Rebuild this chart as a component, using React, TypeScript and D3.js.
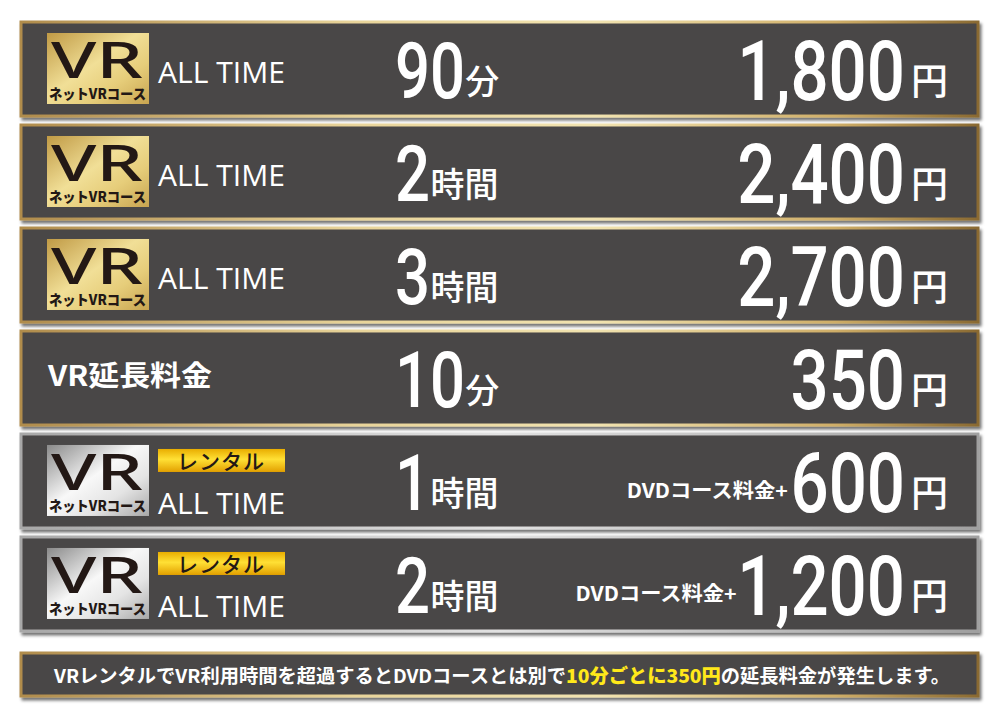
import React from "react";
import * as d3 from "d3";

// ---- data ----
const rowKinds = ["gold", "gold", "gold", "plain", "silver", "silver"];
const rowLabels = ["ALL TIME", "ALL TIME", "ALL TIME", "VR延長料金", "ALL TIME", "ALL TIME"];
const rentalTags = ["", "", "", "", "レンタル", "レンタル"];
const durationValues = ["90", "2", "3", "10", "1", "2"];
const durationUnits = ["分", "時間", "時間", "分", "時間", "時間"];
const priceValues = [1800, 2400, 2700, 350, 600, 1200];
const pricePrefixes = ["", "", "", "", "DVDコース料金+", "DVDコース料金+"];
const priceUnit = "円";
const badgeTitle = "VR";
const badgeSub = "ネットVRコース";
const footerTexts = ["VRレンタルでVR利用時間を超過するとDVDコースとは別で", "10分ごとに350円", "の延長料金が発生します。"];
const footerHighlight = [false, true, false];

const fmt = d3.format(",");
const NUM_FONT = "Roboto, 'Noto Sans', sans-serif";
const JP_FONT = "'Noto Sans CJK JP', 'Noto Sans', sans-serif";
const LAT_FONT = "'Open Sans', 'Noto Sans', sans-serif";

export default function App() {
  const rowIdx = d3.range(rowKinds.length);
  const y = d3.scaleBand<number>().domain(rowIdx).range([22, 631]).paddingInner(0.087);
  const bh = y.bandwidth();
  const rowX = 21;
  const rowW = 957;

  const priceScale = 0.8;
  const priceSize = 84;
  const durScale = 0.8;
  const durSize = 77;
  const digitAdv = 0.5615;
  const commaAdv = 0.2;

  return (
    <svg
      width={1000}
      height={720}
      viewBox="0 0 1000 720"
      style={{ position: "fixed", left: 0, top: 0, display: "block", background: "#ffffff" }}
    >
      <defs>
        <linearGradient id="goldBorder" x1="0" y1="0" x2="1" y2="0">
          <stop offset="0" stopColor="#b08c4c" />
          <stop offset="0.35" stopColor="#e8d49a" />
          <stop offset="0.6" stopColor="#f1e3b0" />
          <stop offset="0.85" stopColor="#cfae68" />
          <stop offset="1" stopColor="#8a6a32" />
        </linearGradient>
        <linearGradient id="silverBorder" x1="0" y1="0" x2="1" y2="0">
          <stop offset="0" stopColor="#a8a8a8" />
          <stop offset="0.5" stopColor="#e2e2e2" />
          <stop offset="1" stopColor="#a0a0a0" />
        </linearGradient>
        <linearGradient id="goldBadge" x1="0" y1="0" x2="1" y2="1">
          <stop offset="0" stopColor="#c09a45" />
          <stop offset="0.45" stopColor="#f1df97" />
          <stop offset="0.7" stopColor="#e6cd7a" />
          <stop offset="1" stopColor="#c8a450" />
        </linearGradient>
        <linearGradient id="silverBadge" x1="0" y1="0" x2="1" y2="1">
          <stop offset="0" stopColor="#8a8a8a" />
          <stop offset="0.45" stopColor="#f8f8f8" />
          <stop offset="0.7" stopColor="#e4e4e4" />
          <stop offset="1" stopColor="#a8a8a8" />
        </linearGradient>
        <linearGradient id="rentalTag" x1="0" y1="0" x2="0" y2="1">
          <stop offset="0" stopColor="#e9ad00" />
          <stop offset="0.45" stopColor="#ffe035" />
          <stop offset="1" stopColor="#e2a000" />
        </linearGradient>
        <filter id="shadow" x="-5%" y="-10%" width="110%" height="130%">
          <feDropShadow dx="2" dy="3" stdDeviation="1.5" floodColor="#000" floodOpacity="0.55" />
        </filter>
      </defs>

      {rowIdx.map((i) => {
        const t = y(i) as number;
        const kind = rowKinds[i];
        const border = kind === "silver" ? "url(#silverBorder)" : "url(#goldBorder)";
        const priceStr = fmt(priceValues[i]);
        const nDigits = priceStr.replace(/,/g, "").length;
        const nCommas = priceStr.length - nDigits;
        const priceW = (nDigits * digitAdv + nCommas * commaAdv) * priceSize * priceScale;
        const durW = durationValues[i].length * digitAdv * durSize * durScale;
        const hasBadge = kind !== "plain";
        const hasRental = rentalTags[i] !== "";
        return (
          <g key={i}>
            <rect
              x={rowX}
              y={t}
              width={rowW}
              height={bh}
              fill="#4a4646"
              stroke={border}
              strokeWidth={3}
              filter="url(#shadow)"
            />
            {hasBadge && (
              <g>
                <rect
                  x={47}
                  y={t + 11}
                  width={102}
                  height={71}
                  fill={kind === "silver" ? "url(#silverBadge)" : "url(#goldBadge)"}
                />
                <g transform={`translate(51,${t + 56}) scale(1,1.12)`}>
                  <text
                    x={0}
                    y={0}
                    fontFamily="'Noto Sans', sans-serif"
                    fontWeight={500}
                    fontSize={46}
                    fill="#231815"
                    textLength={92}
                    lengthAdjust="spacingAndGlyphs"
                  >
                    {badgeTitle}
                  </text>
                </g>
                <text
                  x={49}
                  y={t + 77}
                  fontFamily={JP_FONT}
                  fontWeight={900}
                  fontSize={14}
                  fill="#231815"
                  textLength={97}
                  lengthAdjust="spacingAndGlyphs"
                >
                  {badgeSub}
                </text>
              </g>
            )}
            {hasRental && (
              <g>
                <rect x={158} y={t + 15} width={127} height={23} fill="url(#rentalTag)" />
                <text
                  x={221}
                  y={t + 35}
                  textAnchor="middle"
                  fontFamily={JP_FONT}
                  fontWeight={500}
                  fontSize={21}
                  fill="#231815"
                  letterSpacing={1}
                >
                  {rentalTags[i]}
                </text>
              </g>
            )}
            {hasBadge ? (
              <text
                x={158}
                y={t + (hasRental ? 80 : 61)}
                fontFamily={LAT_FONT}
                fontWeight={500}
                fontSize={29}
                fill="#ffffff"
                textLength={127}
                lengthAdjust="spacingAndGlyphs"
              >
                {rowLabels[i]}
              </text>
            ) : (
              <text
                x={48}
                y={t + 55}
                fontFamily={JP_FONT}
                fontWeight={700}
                fontSize={28}
                fill="#ffffff"
                textLength={164}
                lengthAdjust="spacingAndGlyphs"
              >
                {rowLabels[i]}
              </text>
            )}

            {/* duration */}
            <g transform={`translate(395,${t + 76}) scale(${durScale},1)`}>
              <text x={0} y={0} fontFamily={NUM_FONT} fontWeight={500} fontSize={durSize} fill="#ffffff">
                {durationValues[i]}
              </text>
            </g>
            <text
              x={395 + durW + 1}
              y={t + 72}
              fontFamily={JP_FONT}
              fontWeight={500}
              fontSize={34}
              fill="#ffffff"
            >
              {durationUnits[i]}
            </text>

            {/* price */}
            {pricePrefixes[i] !== "" && (
              <text
                x={905 - priceW - 4}
                y={t + 64}
                textAnchor="end"
                fontFamily={JP_FONT}
                fontWeight={700}
                fontSize={20}
                fill="#ffffff"
                textLength={161}
                lengthAdjust="spacingAndGlyphs"
              >
                {pricePrefixes[i]}
              </text>
            )}
            <g transform={`translate(905,${t + 78}) scale(${priceScale},1)`}>
              <text
                x={0}
                y={0}
                textAnchor="end"
                fontFamily={NUM_FONT}
                fontWeight={500}
                fontSize={priceSize}
                fill="#ffffff"
              >
                {priceStr}
              </text>
            </g>
            <text x={911} y={t + 73} fontFamily={JP_FONT} fontWeight={500} fontSize={37} fill="#ffffff">
              {priceUnit}
            </text>
          </g>
        );
      })}

      {/* footer note */}
      <rect
        x={21}
        y={653}
        width={957}
        height={43}
        fill="#4a4646"
        stroke="url(#goldBorder)"
        strokeWidth={3}
        filter="url(#shadow)"
      />
      <text
        x={502}
        y={683}
        textAnchor="middle"
        fontFamily={JP_FONT}
        fontWeight={700}
        fontSize={19}
        fill="#ffffff"
        textLength={896}
        lengthAdjust="spacingAndGlyphs"
      >
        {footerTexts.map((s, k) => (
          <tspan key={k} fill={footerHighlight[k] ? "#ffe81a" : "#ffffff"} fontWeight={footerHighlight[k] ? 900 : 700}>
            {s}
          </tspan>
        ))}
      </text>
    </svg>
  );
}
